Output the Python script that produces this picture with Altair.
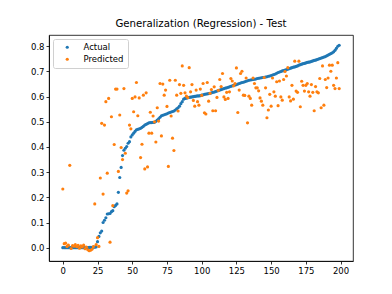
import altair as alt
import pandas as pd

title_text = "Generalization (Regression) - Test"
series_names = ["Actual", "Predicted"]
colors = ["#1f77b4", "#ff7f0e"]
x_ticks = [0, 25, 50, 75, 100, 125, 150, 175, 200]
y_ticks = [0.0, 0.1, 0.2, 0.3, 0.4, 0.5, 0.6, 0.7, 0.8]

actual = [
    0.000, 0.000, 0.000, 0.000, 0.000, 0.000, 0.000, 0.000, 0.000, 0.000,
    0.000, 0.000, 0.000, 0.000, 0.000, 0.000, 0.000, 0.000, 0.000, 0.001,
    0.001, 0.001, 0.002, 0.002, 0.003, 0.024, 0.045, 0.059, 0.066, 0.100,
    0.109, 0.119, 0.134, 0.135, 0.136, 0.143, 0.147, 0.163, 0.168, 0.174,
    0.220, 0.279, 0.319, 0.366, 0.387, 0.395, 0.402, 0.415, 0.421, 0.440,
    0.448, 0.455, 0.462, 0.468, 0.470, 0.472, 0.474, 0.478, 0.482, 0.487,
    0.490, 0.493, 0.496, 0.497, 0.497, 0.498, 0.498, 0.502, 0.507, 0.512,
    0.518, 0.524, 0.526, 0.528, 0.530, 0.532, 0.535, 0.537, 0.539, 0.541,
    0.543, 0.547, 0.552, 0.556, 0.562, 0.572, 0.580, 0.590, 0.593, 0.594,
    0.596, 0.597, 0.598, 0.599, 0.600, 0.601, 0.602, 0.603, 0.603, 0.604,
    0.606, 0.607, 0.609, 0.610, 0.611, 0.612, 0.613, 0.615, 0.617, 0.618,
    0.620, 0.622, 0.624, 0.626, 0.628, 0.630, 0.632, 0.634, 0.635, 0.637,
    0.639, 0.641, 0.643, 0.645, 0.646, 0.648, 0.650, 0.652, 0.654, 0.656,
    0.657, 0.659, 0.661, 0.663, 0.665, 0.666, 0.667, 0.668, 0.669, 0.670,
    0.672, 0.673, 0.674, 0.675, 0.676, 0.677, 0.678, 0.679, 0.681, 0.682,
    0.684, 0.686, 0.688, 0.690, 0.693, 0.696, 0.698, 0.700, 0.702, 0.703,
    0.705, 0.707, 0.709, 0.711, 0.713, 0.715, 0.717, 0.718, 0.720, 0.722,
    0.725, 0.727, 0.729, 0.731, 0.732, 0.734, 0.736, 0.737, 0.738, 0.740,
    0.742, 0.744, 0.745, 0.747, 0.749, 0.751, 0.753, 0.755, 0.757, 0.759,
    0.762, 0.765, 0.768, 0.771, 0.774, 0.778, 0.784, 0.792, 0.800, 0.804,
]

predicted = [
    0.233, 0.016, 0.018, 0.005, 0.010, 0.327, -0.003, 0.008, 0.006, 0.012,
    0.004, 0.009, -0.002, 0.007, 0.003, 0.010, -0.004, 0.002, -0.008, -0.012,
    -0.010, -0.006, 0.004, 0.174, 0.012, 0.040, 0.005, 0.277, 0.494, 0.213,
    0.487, 0.580, 0.296, 0.593, 0.022, 0.520, 0.167, 0.410, 0.630, 0.630,
    0.303, 0.527, 0.398, 0.350, 0.632, 0.375, 0.217, 0.226, 0.487, 0.472,
    0.593, 0.540, 0.599, 0.656, 0.524, 0.595, 0.358, 0.411, 0.606, 0.313,
    0.615, 0.321, 0.455, 0.538, 0.455, 0.523, 0.500, 0.420, 0.556, 0.503,
    0.652, 0.444, 0.650, 0.606, 0.626, 0.561, 0.323, 0.665, 0.523, 0.435,
    0.386, 0.665, 0.606, 0.543, 0.648, 0.613, 0.722, 0.645, 0.615, 0.602,
    0.596, 0.715, 0.619, 0.648, 0.585, 0.562, 0.626, 0.580, 0.566, 0.630,
    0.605, 0.652, 0.536, 0.531, 0.656, 0.582, 0.613, 0.628, 0.544, 0.639,
    0.544, 0.597, 0.625, 0.668, 0.640, 0.692, 0.599, 0.589, 0.617, 0.593,
    0.619, 0.672, 0.662, 0.643, 0.652, 0.714, 0.537, 0.626, 0.692, 0.701,
    0.606, 0.605, 0.674, 0.496, 0.602, 0.593, 0.566, 0.674, 0.652, 0.635,
    0.635, 0.623, 0.595, 0.582, 0.566, 0.676, 0.635, 0.516, 0.547, 0.609,
    0.562, 0.674, 0.619, 0.602, 0.659, 0.564, 0.662, 0.599, 0.586, 0.668,
    0.700, 0.682, 0.715, 0.599, 0.583, 0.645, 0.590, 0.741, 0.622, 0.617,
    0.741, 0.560, 0.661, 0.645, 0.622, 0.645, 0.652, 0.619, 0.602, 0.648,
    0.617, 0.544, 0.640, 0.619, 0.615, 0.672, 0.556, 0.722, 0.566, 0.668,
    0.636, 0.674, 0.725, 0.701, 0.725, 0.645, 0.632, 0.674, 0.735, 0.632,
]

n = len(actual)
rows = []
for i, v in enumerate(actual):
    rows.append({"idx": i, "value": v, "series": series_names[0], "order": 0})
for i, v in enumerate(predicted):
    rows.append({"idx": i, "value": v, "series": series_names[1], "order": 1})
df = pd.DataFrame(rows)

# matplotlib-like 5% margins
xmin, xmax = 0, n - 1
xm = (xmax - xmin) * 0.05
allv = actual + predicted
ymin, ymax = min(allv), max(allv)
ym = (ymax - ymin) * 0.05

font = "DejaVu Sans"

chart = alt.Chart(df).mark_circle(size=10, opacity=1).encode(
    x=alt.X("idx:Q",
            scale=alt.Scale(domain=[xmin - xm, xmax + xm], nice=False, zero=False),
            axis=alt.Axis(values=x_ticks, title=None, grid=False, format="d",
                          tickSize=3, labelPadding=2, labelFontSize=8.5,
                          labelColor="black", tickColor="black", domainColor="black",
                          labelFont=font)),
    y=alt.Y("value:Q",
            scale=alt.Scale(domain=[ymin - ym, ymax + ym], nice=False, zero=False),
            axis=alt.Axis(values=y_ticks, title=None, grid=False, format=".1f",
                          tickSize=3, labelPadding=2, labelFontSize=8.5,
                          labelColor="black", tickColor="black", domainColor="black",
                          labelFont=font)),
    color=alt.Color("series:N",
                    scale=alt.Scale(domain=series_names, range=colors),
                    legend=alt.Legend(orient="top-left", offset=4, title=None,
                                      fillColor="rgba(255,255,255,0.8)",
                                      strokeColor="#d0d0d0", cornerRadius=2,
                                      padding=4, symbolType="circle", symbolSize=10,
                                      symbolOffset=6, labelOffset=12,
                                      labelFontSize=8.5, labelFont=font,
                                      labelColor="black", rowPadding=3)),
    order=alt.Order("order:Q"),
).properties(
    width=304,
    height=226,
    title=alt.TitleParams(title_text, fontSize=10.2, font=font, fontWeight="normal",
                          color="black", anchor="middle", offset=6),
    autosize=alt.AutoSizeParams(type="none"),
    padding={"left": 41, "top": 27, "right": 31, "bottom": 25},
).configure_view(
    stroke="black", strokeWidth=0.8
).configure_axis(
    domainWidth=0.8, tickWidth=0.8
)

chart.save("out.html", embed_options={"renderer": "svg", "actions": False})
